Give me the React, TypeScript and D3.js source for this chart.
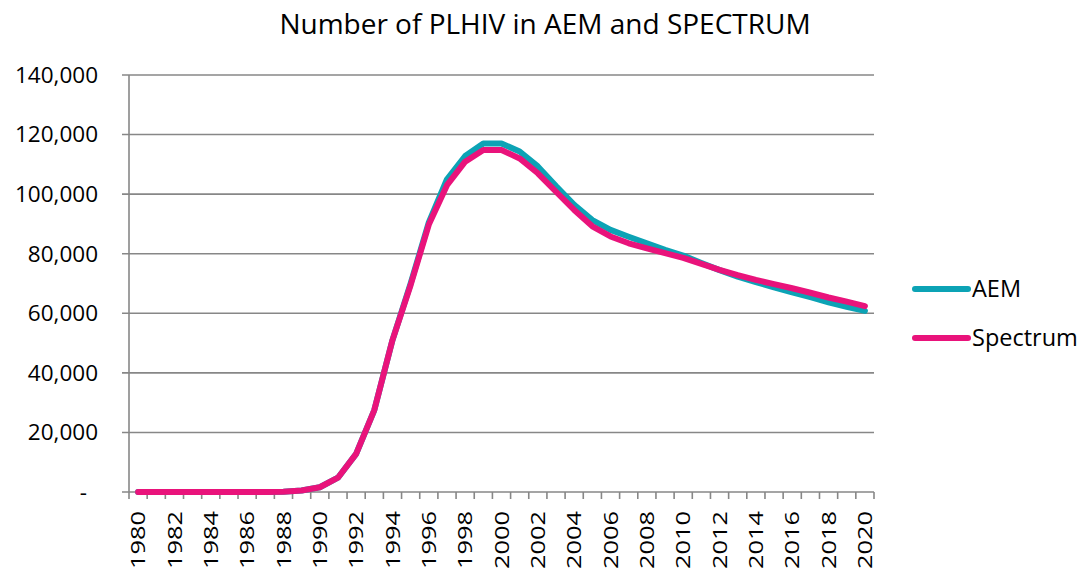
import React, { useEffect, useRef } from 'react';
import * as d3 from 'd3';

const years = d3.range(1980, 2021).map(String);

const aemValues = [
  0, 0, 0, 0, 0, 0, 0, 0, 100, 500, 1600, 4800, 12800, 27500, 51000, 70000, 90500, 105000,
  112800, 117000, 117000, 114300, 109300, 102700, 96400, 91300, 88000, 85700, 83500, 81300,
  79400, 76900, 74500, 72300, 70500, 68700, 67000, 65400, 63700, 62200, 60800,
];

const spectrumValues = [
  0, 0, 0, 0, 0, 0, 0, 0, 100, 500, 1600, 4800, 12800, 27500, 51000, 69500, 89800, 103000,
  110900, 114800, 114800, 112000, 107000, 100800, 94700, 89200, 85800, 83500, 81800, 80200,
  78600, 76600, 74600, 72800, 71200, 69800, 68400, 66900, 65300, 63900, 62400,
];

const yTicks = [0, 20000, 40000, 60000, 80000, 100000, 120000, 140000];

const series = [
  { name: 'AEM', values: aemValues, color: '#0CA3B5' },
  { name: 'Spectrum', values: spectrumValues, color: '#E9137B' },
];

const App = () => {
  const svgRef = useRef<SVGSVGElement | null>(null);

  useEffect(() => {
    const svg = d3.select(svgRef.current);
    svg.selectAll('*').remove();

    const width = 1085;
    const height = 569;
    const margin = { top: 75, right: 211, bottom: 77, left: 129 };
    const font = '"Open Sans", sans-serif';
    const gridColor = '#878787';

    svg.attr('width', width).attr('height', height);

    const x = d3
      .scaleBand()
      .domain(years)
      .range([margin.left, width - margin.right]);
    const y = d3
      .scaleLinear()
      .domain([0, 140000])
      .range([height - margin.bottom, margin.top]);

    // title
    svg
      .append('text')
      .attr('x', 545)
      .attr('y', 34)
      .attr('text-anchor', 'middle')
      .style('font-family', font)
      .style('font-size', '28px')
      .style('fill', '#000')
      .text('Number of PLHIV in AEM and SPECTRUM');

    // gridlines
    svg
      .append('g')
      .selectAll('line')
      .data(yTicks)
      .enter()
      .append('line')
      .attr('x1', margin.left - 7)
      .attr('x2', width - margin.right)
      .attr('y1', (d) => y(d))
      .attr('y2', (d) => y(d))
      .attr('stroke', gridColor)
      .attr('stroke-width', 1.6);

    // y axis line
    svg
      .append('line')
      .attr('x1', margin.left)
      .attr('x2', margin.left)
      .attr('y1', y(0))
      .attr('y2', y(140000))
      .attr('stroke', gridColor)
      .attr('stroke-width', 1.6);

    // y labels
    svg
      .append('g')
      .selectAll('text')
      .data(yTicks)
      .enter()
      .append('text')
      .attr('x', (d) => (d === 0 ? 87 : 98))
      .attr('y', (d) => y(d))
      .attr('dy', '0.35em')
      .attr('text-anchor', 'end')
      .style('font-family', font)
      .style('font-size', '22.5px')
      .style('fill', '#000')
      .text((d) => (d === 0 ? '-' : d3.format(',')(d)));

    // x tick marks at category boundaries
    const bounds = years.map((d) => x(d) as number).concat([width - margin.right]);
    svg
      .append('g')
      .selectAll('line')
      .data(bounds)
      .enter()
      .append('line')
      .attr('x1', (d) => d)
      .attr('x2', (d) => d)
      .attr('y1', y(0))
      .attr('y2', y(0) + 7)
      .attr('stroke', gridColor)
      .attr('stroke-width', 1.6);

    // x labels, every second year, rotated
    svg
      .append('g')
      .selectAll('text')
      .data(years.filter((d, i) => i % 2 === 0))
      .enter()
      .append('text')
      .attr(
        'transform',
        (d) => `translate(${(x(d) as number) + x.bandwidth() / 2}, ${y(0) + 19}) rotate(-90)`
      )
      .attr('dy', '0.36em')
      .attr('text-anchor', 'end')
      .attr('textLength', 58)
      .attr('lengthAdjust', 'spacingAndGlyphs')
      .style('font-family', font)
      .style('font-size', '20px')
      .style('fill', '#000')
      .text((d) => d);

    // lines
    series.forEach((s) => {
      const line = d3
        .line<number>()
        .x((d, i) => (x(years[i]) as number) + x.bandwidth() / 2)
        .y((d) => y(d));
      svg
        .append('path')
        .datum(s.values)
        .attr('d', line)
        .attr('fill', 'none')
        .attr('stroke', s.color)
        .attr('stroke-width', 6)
        .attr('stroke-linejoin', 'round')
        .attr('stroke-linecap', 'round');
    });

    // legend
    const legend = svg
      .append('g')
      .selectAll('g')
      .data(series)
      .enter()
      .append('g')
      .attr('transform', (d, i) => `translate(915, ${289 + i * 49})`);

    legend
      .append('line')
      .attr('x1', 0)
      .attr('x2', 53)
      .attr('stroke', (d) => d.color)
      .attr('stroke-width', 6)
      .attr('stroke-linecap', 'round');

    legend
      .append('text')
      .attr('x', 57)
      .attr('dy', '0.36em')
      .style('font-family', font)
      .style('font-size', '23.5px')
      .style('fill', '#000')
      .text((d) => d.name);
  }, []);

  return (
    <div style={{ position: 'absolute', left: 0, top: 0 }}>
      <svg ref={svgRef}></svg>
    </div>
  );
};

export default App;
